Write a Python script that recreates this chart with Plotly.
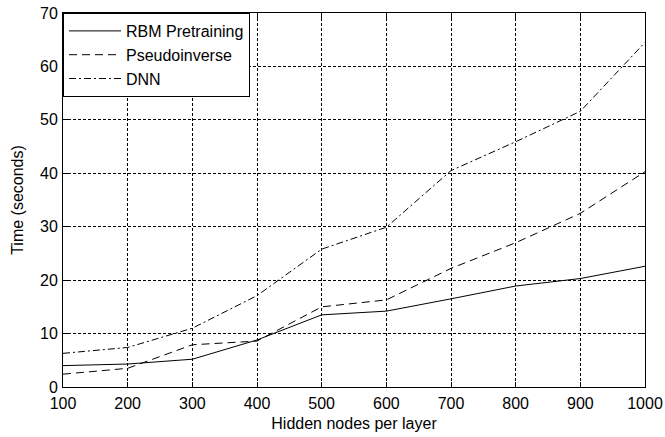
import plotly.graph_objects as go

hidden_nodes = [100, 200, 300, 400, 500, 600, 700, 800, 900, 1000]
rbm_pretraining = [4.0, 4.3, 5.2, 8.8, 13.5, 14.2, 16.5, 18.9, 20.3, 22.6]
pseudoinverse = [2.4, 3.5, 7.9, 8.6, 15.0, 16.3, 22.2, 27.0, 32.5, 40.3]
dnn = [6.3, 7.4, 11.0, 17.1, 25.8, 29.9, 40.5, 45.9, 51.6, 64.5]

x_ticks = [100, 200, 300, 400, 500, 600, 700, 800, 900, 1000]
y_ticks = [0, 10, 20, 30, 40, 50, 60, 70]

FONT = "Liberation Sans, Arial, sans-serif"
FS = 16

fig = go.Figure()
fig.add_trace(go.Scatter(x=hidden_nodes, y=rbm_pretraining, mode="lines", name="RBM Pretraining",
                         legendgroup="a", line=dict(color="black", width=1, dash="solid")))
fig.add_trace(go.Scatter(x=hidden_nodes, y=pseudoinverse, mode="lines", name="Pseudoinverse",
                         legendgroup="b", line=dict(color="black", width=1, dash="8px,5px")))
fig.add_trace(go.Scatter(x=hidden_nodes, y=dnn, mode="lines", name="DNN",
                         legendgroup="c", line=dict(color="black", width=1, dash="7px,3px,2px,3px")))

axis_common = dict(
    showline=True, linecolor="black", linewidth=1, mirror="ticks",
    ticks="inside", ticklen=5, tickcolor="black",
    showgrid=True, gridcolor="black", gridwidth=1, griddash="3px,2px",
    zeroline=False, tickfont=dict(family=FONT, size=FS, color="black"),
)

fig.update_layout(
    width=665, height=437,
    margin=dict(l=63, r=20, t=13, b=50, autoexpand=False),
    paper_bgcolor="white", plot_bgcolor="white",
    font=dict(family=FONT, size=FS, color="black"),
    xaxis=dict(range=[100, 1000], tickvals=x_ticks, ticklabelstandoff=2,
               title=dict(text="Hidden nodes per layer", font=dict(family=FONT, size=FS, color="black"), standoff=6),
               **axis_common),
    yaxis=dict(range=[0, 70], tickvals=y_ticks, ticklabelstandoff=1,
               title=dict(text="Time (seconds)", font=dict(family=FONT, size=FS, color="black"), standoff=12),
               **axis_common),
    legend=dict(x=0, y=1, xanchor="left", yanchor="top", bgcolor="white",
                bordercolor="black", borderwidth=1,
                font=dict(family=FONT, size=FS, color="black"),
                tracegroupgap=0, itemwidth=52, traceorder="grouped"),
    showlegend=True,
)

fig.write_html("out.html", config={"displayModeBar": False},
               post_script="document.body.style.margin='0';document.body.style.padding='0';")
